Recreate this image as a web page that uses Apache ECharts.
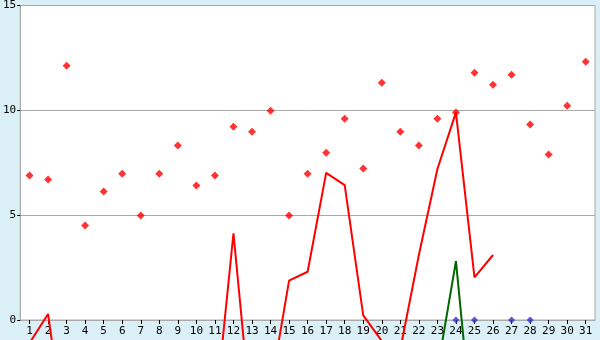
<!DOCTYPE html>
<html>
<head>
<meta charset="utf-8">
<script src="https://cdn.jsdelivr.net/npm/echarts@6/dist/echarts.min.js"></script>
<style>
html,body{margin:0;padding:0;background:#daeff6;}
#c{width:600px;height:340px;}
</style>
</head>
<body>
<div id="c"></div>
<script>
var days = ['1','2','3','4','5','6','7','8','9','10','11','12','13','14','15','16','17','18','19','20','21','22','23','24','25','26','27','28','29','30','31'];
var redPoints = [6.89,6.70,12.13,4.51,6.13,6.98,4.98,6.98,8.32,6.41,6.89,9.22,8.98,9.98,4.98,6.98,7.98,9.60,7.22,11.32,8.98,8.32,9.60,9.90,11.79,11.22,11.70,9.32,7.89,10.22,12.32];
var redLine = [-1.1,0.29,-6.0,null,null,null,null,null,null,null,-4.6,4.13,-5.1,-3.3,1.88,2.3,7.02,6.43,0.22,-1.0,-1.4,3.1,7.2,9.9,2.03,3.1,null,null,null,null,null];
var greenLine = [null,null,null,null,null,null,null,null,null,null,null,null,null,null,null,null,null,null,null,null,null,null,-2.4,2.81,-6.3,null,null,null,null,null,null];
var bluePoints = [null,null,null,null,null,null,null,null,null,null,null,null,null,null,null,null,null,null,null,null,null,null,null,0,0,null,0,0,null,null,null];
var yTicks = {min:0, max:15, interval:5};

var chart = echarts.init(document.getElementById('c'), null, {renderer:'canvas'});
var font = 'DejaVu Sans Mono';
chart.setOption({
  animation:false,
  backgroundColor:'#daeff6',
  grid:{left:20, top:5, right:5, bottom:20, show:true, backgroundColor:'#ffffff', borderColor:'#aaaaaa', borderWidth:1},
  xAxis:{
    type:'category', data:days, boundaryGap:true,
    axisLine:{show:true, lineStyle:{color:'#aaaaaa', width:1}},
    axisTick:{show:true, alignWithLabel:true, length:4, lineStyle:{color:'#000000'}},
    axisLabel:{color:'#000000', fontFamily:font, fontSize:11, margin:6, interval:0},
    splitLine:{show:false}
  },
  yAxis:{
    type:'value', min:yTicks.min, max:yTicks.max, interval:yTicks.interval,
    axisLine:{show:true, lineStyle:{color:'#aaaaaa', width:1}},
    axisTick:{show:true, length:3, lineStyle:{color:'#000000'}},
    axisLabel:{color:'#000000', fontFamily:font, fontSize:11, margin:4, padding:[2,0,0,0]},
    splitLine:{show:true, lineStyle:{color:'#aaaaaa', width:1}}
  },
  series:[
    {type:'line', data:redLine, clip:false, showSymbol:false, symbol:'none', connectNulls:false,
     lineStyle:{color:'#ff0000', width:2}, itemStyle:{color:'#ff0000'}, z:2},
    {type:'line', data:greenLine, clip:false, showSymbol:false, symbol:'none', connectNulls:false,
     lineStyle:{color:'#006600', width:2}, itemStyle:{color:'#006600'}, z:2},
    {type:'scatter', data:redPoints, symbol:'diamond', symbolSize:8, itemStyle:{color:'#ff0000'}, z:3},
    {type:'scatter', data:bluePoints, symbol:'diamond', symbolSize:7, clip:false, itemStyle:{color:'#3333cc'}, z:4}
  ]
});
</script>
</body>
</html>
